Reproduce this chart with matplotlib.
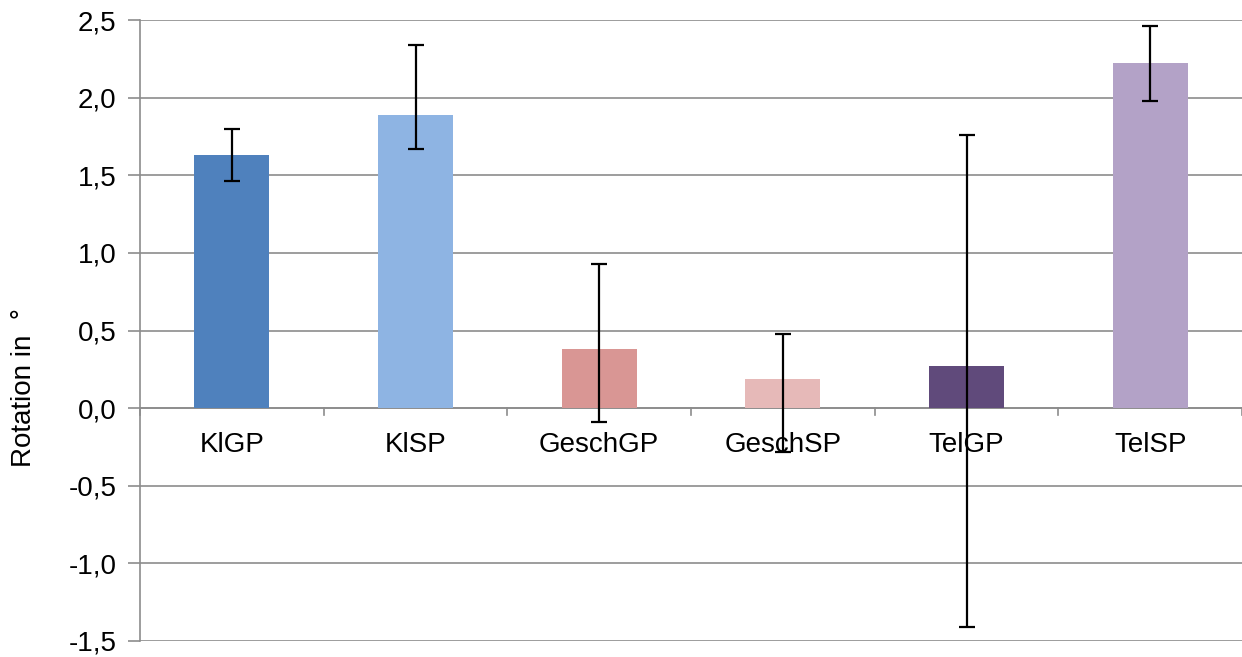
import numpy as np
import matplotlib.pyplot as plt

plt.rcParams['font.family'] = ['Liberation Sans', 'DejaVu Sans']

# data to plot
categories = ['KlGP', 'KlSP', 'GeschGP', 'GeschSP', 'TelGP', 'TelSP']
values = [1.63, 1.89, 0.38, 0.19, 0.27, 2.22]
err_low = [0.17, 0.22, 0.47, 0.47, 1.68, 0.24]
err_high = [0.17, 0.45, 0.55, 0.29, 1.49, 0.24]
colors = ['#4F81BD', '#8EB4E3', '#D99694', '#E6B9B8', '#604A7B', '#B3A2C7']

fig = plt.figure(figsize=(12.42, 6.57), dpi=100)
ax = fig.add_axes([140 / 1242, 16 / 657, 1102 / 1242, 621 / 657])

index = np.arange(len(categories))
ax.bar(index, values, 0.41, color=colors, zorder=2)
ax.errorbar(index, values, yerr=[err_low, err_high], fmt='none',
            ecolor='black', elinewidth=1.6, capsize=6, capthick=1.6, zorder=3)

ax.set_ylim(-1.5, 2.5)
ax.set_xlim(-0.5, len(categories) - 0.5)
yt = np.arange(-1.5, 2.51, 0.5)
ax.set_yticks(yt)
ax.set_yticklabels([('%.1f' % v).replace('.', ',') for v in yt], fontsize=20)
ax.yaxis.grid(True, color='#8C8C8C', linewidth=1.2, zorder=0)
ax.tick_params(axis='y', length=9, color='#8C8C8C', width=1.2, pad=8)

# category axis sits on the zero line
ax.set_xticks([])
ax.axhline(0, color='#8C8C8C', linewidth=1.2, zorder=1)
for b in np.arange(-0.5, len(categories), 1.0):
    ax.plot([b, b], [0, -0.045], color='#8C8C8C', linewidth=1.2, zorder=1,
            clip_on=False)
for i, c in enumerate(categories):
    ax.text(i, -0.24, c, ha='center', va='center', fontsize=20, zorder=4)

for s in ['top', 'right', 'bottom']:
    ax.spines[s].set_visible(False)
ax.spines['left'].set_color('#8C8C8C')
ax.spines['left'].set_linewidth(1.2)

fig.text(24 / 1242, 1 - 388 / 657, 'Rotation in  \u00b0', rotation=90,
         ha='center', va='center', fontsize=20)

fig.savefig('out.png', dpi=100)
